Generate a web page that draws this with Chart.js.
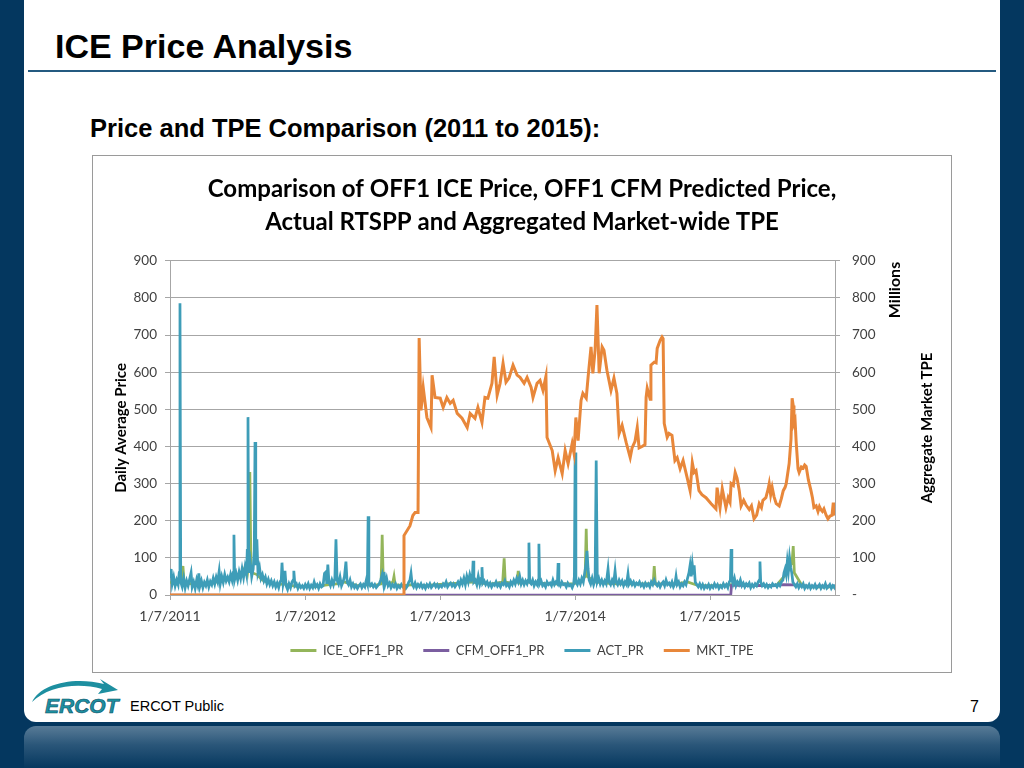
<!DOCTYPE html>
<html><head><meta charset="utf-8">
<script src="https://cdn.jsdelivr.net/npm/chart.js@4.4.0/dist/chart.umd.min.js"></script>
<style>
html,body{margin:0;padding:0;}
body{width:1024px;height:768px;background:#04375f;position:relative;overflow:hidden;font-family:"Liberation Sans",Arial,sans-serif;}
#panel{position:absolute;left:24px;top:0;width:976px;height:722px;background:#fff;border-radius:0 0 12px 12px;}
#reflect{position:absolute;left:24px;top:726px;width:976px;height:42px;border-radius:12px 12px 0 0;background:linear-gradient(#587b97,#2a5679 45%,#06385f);}
#title{position:absolute;left:55px;top:27px;font-weight:bold;font-size:34px;color:#000;white-space:nowrap;}
#rule{position:absolute;left:28px;top:70px;width:968px;height:2px;background:#245a80;}
#subtitle{position:absolute;left:90px;top:114px;font-weight:bold;font-size:25.5px;color:#000;white-space:nowrap;}
#box{position:absolute;left:92px;top:155px;width:858px;height:516px;border:1px solid #9a9a9a;background:#fff;}
#chartwrap{position:absolute;left:93px;top:156px;width:858px;height:511px;}
.rot{position:absolute;transform:translate(-50%,-50%) rotate(-90deg);font-family:Lato,"Open Sans",sans-serif;font-weight:bold;font-size:15px;color:#000;white-space:nowrap;}
#pub{position:absolute;left:130px;top:698px;font-size:14.5px;color:#000;}
#pnum{position:absolute;left:970px;top:698px;font-size:16px;color:#000;}
#logo{position:absolute;left:26px;top:676px;}
</style></head>
<body>
<div id="panel"></div>
<div id="reflect"></div>
<div id="title">ICE Price Analysis</div>
<div id="rule"></div>
<div id="subtitle">Price and TPE Comparison (2011 to 2015):</div>
<div id="box"></div>
<div id="chartwrap"><canvas id="c" width="858" height="511"></canvas></div>
<div class="rot" style="left:893px;top:290px;font-size:16px;">Millions</div>
<div class="rot" style="left:926px;top:428px;">Aggregate Market TPE</div>
<svg id="logo" width="100" height="42" viewBox="0 0 100 42">
  <path d="M6 26 C 14 8, 48 0, 78 8 L 74 3 L 92 14 L 72 18 L 76 13 C 52 6, 22 10, 6 26 Z" fill="#1d8fa0"/>
  <text x="19" y="37" font-family="Liberation Sans, Arial" font-size="21" font-weight="bold" font-style="italic" fill="#1d8fa0" stroke="#0b4f66" stroke-width="0.6">ERCOT</text>
</svg>
<div id="pub">ERCOT Public</div>
<div id="pnum">7</div>
<script>
// x values are days since 1/7/2011
const tickDays = [0, 366, 731, 1096, 1461];
const tickLabels = ['1/7/2011', '1/7/2012', '1/7/2013', '1/7/2014', '1/7/2015'];
const rightTickLabels = ['-', '100', '200', '300', '400', '500', '600', '700', '800', '900'];
const seriesNames = ['ICE_OFF1_PR', 'CFM_OFF1_PR', 'ACT_PR', 'MKT_TPE'];

const iceOff1Pr = [[0,35],[15,28],[30,40],[35,78],[38,35],[55,30],[75,35],[95,28],[115,32],[135,38],[155,42],[175,45],[195,55],[205,80],[210,60],[214,90],[216,331],[219,70],[222,60],[235,55],[250,40],[270,32],[290,28],[310,30],[330,25],[350,22],[370,24],[390,22],[410,25],[430,28],[450,30],[470,35],[490,30],[510,25],[530,28],[550,25],[571,30],[574,162],[577,35],[590,30],[603,35],[606,50],[609,28],[630,25],[660,28],[690,25],[720,28],[750,30],[780,32],[810,35],[840,32],[870,30],[900,35],[904,99],[907,35],[925,32],[939,35],[942,65],[945,32],[970,35],[1000,32],[1030,30],[1060,30],[1090,30],[1110,35],[1123,50],[1126,178],[1129,50],[1150,35],[1180,32],[1210,30],[1240,30],[1270,30],[1307,30],[1310,78],[1313,30],[1340,30],[1370,30],[1400,35],[1430,25],[1460,25],[1490,25],[1520,28],[1550,28],[1580,25],[1610,25],[1640,25],[1670,60],[1683,90],[1686,132],[1689,60],[1710,25],[1740,22],[1770,22],[1799,22]];

const cfmOff1Pr = [[0,0],[1517,0],[1519,26],[1540,26],[1570,25],[1600,26],[1630,25],[1660,28],[1690,27],[1720,24],[1750,24],[1780,24],[1799,24]];

const actPr = [[0,45],[3,70],[6,30],[10,48],[14,25],[18,40],[22,28],[25,60],[27,786],[29,35],[33,22],[37,45],[41,20],[45,38],[49,25],[53,42],[57,60],[60,22],[64,35],[68,18],[72,40],[75,28],[78,58],[81,24],[85,38],[89,20],[93,34],[97,25],[101,40],[105,22],[109,36],[113,28],[117,45],[121,30],[125,48],[129,35],[133,64],[136,30],[140,50],[144,34],[148,55],[152,38],[156,48],[160,36],[164,55],[168,40],[171,60],[173,162],[175,42],[179,58],[183,40],[187,62],[191,45],[195,70],[199,48],[203,75],[207,55],[209,120],[211,479],[213,60],[217,90],[221,50],[225,70],[228,120],[230,412],[232,80],[235,150],[238,60],[242,75],[246,45],[250,55],[254,38],[258,48],[262,30],[266,42],[270,28],[274,38],[278,25],[282,35],[286,22],[290,32],[294,20],[298,36],[301,40],[303,87],[306,30],[309,45],[311,65],[314,25],[318,15],[322,30],[326,20],[330,35],[333,40],[335,65],[338,25],[342,30],[346,18],[350,28],[354,20],[358,25],[362,18],[366,28],[370,20],[374,30],[378,18],[382,26],[386,20],[390,35],[394,22],[398,28],[402,18],[406,30],[410,22],[414,25],[418,58],[422,62],[424,30],[427,82],[430,35],[434,25],[438,40],[442,28],[446,45],[449,150],[452,40],[456,30],[460,48],[464,25],[468,35],[472,50],[476,90],[479,35],[483,28],[487,40],[491,22],[495,30],[499,20],[503,26],[507,18],[511,25],[515,30],[519,20],[523,28],[527,22],[531,40],[534,30],[536,212],[538,35],[542,25],[546,30],[550,22],[554,28],[558,20],[562,25],[566,30],[570,40],[574,55],[577,35],[579,62],[582,30],[586,45],[590,25],[594,32],[598,20],[602,28],[606,22],[610,30],[614,18],[618,25],[622,20],[626,28],[630,22],[634,26],[638,18],[642,24],[646,35],[649,40],[652,58],[655,30],[659,22],[663,32],[667,20],[671,28],[675,22],[679,30],[683,20],[687,26],[691,18],[695,28],[699,22],[703,30],[707,20],[711,25],[715,30],[719,22],[723,28],[727,20],[731,26],[735,22],[739,30],[743,25],[747,35],[751,22],[755,28],[759,32],[763,24],[767,30],[771,22],[775,28],[779,35],[783,25],[787,40],[791,30],[795,45],[799,28],[803,50],[807,35],[811,55],[815,40],[818,45],[820,92],[822,35],[826,40],[830,28],[834,50],[838,30],[842,45],[844,75],[846,32],[850,38],[854,28],[858,35],[862,25],[866,32],[870,22],[874,30],[878,26],[882,35],[886,24],[890,30],[894,22],[898,32],[902,28],[906,38],[910,25],[914,30],[918,22],[922,35],[926,28],[930,40],[934,30],[938,45],[942,35],[946,50],[950,30],[954,40],[958,28],[962,38],[966,30],[969,40],[971,141],[973,35],[977,30],[981,40],[985,25],[989,35],[993,28],[996,40],[998,138],[1000,30],[1004,38],[1008,25],[1012,30],[1016,22],[1020,35],[1024,28],[1028,32],[1032,25],[1036,40],[1040,28],[1044,35],[1048,30],[1050,86],[1052,32],[1056,25],[1060,35],[1064,28],[1068,30],[1072,22],[1076,32],[1080,25],[1084,28],[1088,20],[1092,30],[1094,50],[1096,384],[1098,35],[1102,28],[1106,40],[1110,30],[1114,45],[1118,35],[1122,60],[1125,80],[1128,119],[1131,70],[1134,40],[1138,30],[1142,45],[1146,28],[1150,40],[1153,362],[1156,35],[1160,45],[1164,30],[1168,40],[1172,28],[1176,38],[1180,30],[1185,70],[1188,35],[1192,28],[1196,40],[1200,30],[1204,65],[1207,35],[1211,28],[1215,40],[1219,30],[1223,38],[1227,25],[1231,35],[1235,28],[1239,57],[1242,30],[1246,38],[1250,28],[1254,35],[1258,25],[1262,32],[1266,28],[1270,35],[1274,25],[1278,30],[1282,22],[1286,32],[1290,25],[1294,30],[1298,22],[1302,35],[1306,28],[1310,40],[1314,30],[1318,25],[1322,32],[1326,22],[1330,30],[1334,35],[1338,25],[1342,40],[1346,28],[1350,32],[1354,25],[1358,35],[1362,22],[1366,30],[1369,50],[1372,28],[1376,35],[1380,22],[1384,30],[1388,25],[1392,35],[1396,28],[1400,45],[1404,60],[1407,80],[1410,50],[1413,82],[1416,55],[1418,80],[1421,35],[1425,28],[1429,22],[1433,30],[1437,20],[1441,28],[1445,18],[1449,25],[1453,20],[1457,28],[1461,18],[1465,25],[1469,20],[1473,30],[1477,22],[1481,28],[1485,18],[1489,25],[1493,20],[1497,30],[1501,22],[1505,28],[1509,20],[1513,35],[1516,40],[1518,124],[1520,40],[1523,30],[1527,45],[1531,25],[1535,35],[1539,28],[1543,40],[1547,25],[1551,32],[1555,22],[1559,30],[1563,25],[1567,32],[1571,20],[1575,28],[1579,22],[1583,30],[1587,25],[1591,35],[1594,40],[1596,90],[1598,35],[1602,25],[1606,30],[1610,22],[1614,28],[1618,20],[1622,26],[1626,22],[1630,30],[1634,25],[1638,28],[1642,22],[1646,30],[1650,25],[1654,35],[1658,40],[1661,60],[1664,70],[1667,55],[1670,90],[1673,65],[1676,100],[1679,75],[1682,60],[1685,35],[1689,28],[1693,22],[1697,30],[1701,20],[1705,28],[1709,22],[1713,30],[1717,18],[1721,25],[1725,20],[1729,28],[1733,18],[1737,25],[1741,20],[1745,28],[1749,18],[1753,22],[1757,28],[1761,18],[1765,25],[1769,20],[1773,30],[1777,18],[1781,22],[1785,28],[1789,18],[1793,25],[1797,20],[1799,28]];

// Aggregate market TPE, millions (secondary axis)
const mktTpe = [[0,0],[632,0],[633,160],[649,186],[657,214],[663,222],[671,222],[674,692],[679,497],[685,559],[695,478],[706,451],[709,592],[717,532],[731,530],[739,505],[749,532],[758,516],[766,524],[777,489],[790,476],[804,451],[812,489],[825,476],[833,505],[844,465],[852,532],[860,530],[871,570],[877,641],[885,538],[893,570],[901,624],[909,573],[917,584],[928,619],[939,592],[947,586],[958,570],[966,586],[977,559],[982,532],[993,570],[1001,578],[1009,551],[1017,589],[1020,424],[1034,389],[1042,335],[1050,370],[1061,327],[1069,389],[1077,354],[1088,408],[1093,381],[1098,478],[1104,416],[1112,524],[1117,543],[1126,530],[1131,586],[1139,668],[1144,597],[1150,659],[1155,781],[1161,597],[1169,668],[1174,659],[1182,605],[1193,551],[1201,584],[1209,543],[1215,435],[1223,457],[1234,411],[1245,370],[1250,396],[1258,414],[1264,451],[1269,396],[1277,400],[1285,405],[1288,532],[1291,557],[1299,527],[1301,619],[1310,627],[1315,625],[1318,664],[1326,686],[1331,695],[1334,690],[1337,462],[1345,425],[1350,435],[1358,430],[1366,362],[1372,370],[1380,340],[1388,362],[1399,316],[1407,281],[1413,356],[1418,330],[1423,335],[1431,281],[1439,270],[1450,262],[1464,246],[1477,232],[1480,289],[1488,235],[1494,286],[1504,235],[1510,262],[1515,250],[1518,300],[1524,295],[1529,330],[1534,315],[1540,281],[1545,240],[1552,255],[1558,243],[1567,230],[1573,240],[1580,205],[1587,215],[1594,246],[1600,235],[1604,255],[1612,262],[1618,285],[1621,300],[1625,270],[1629,290],[1634,265],[1640,246],[1648,240],[1654,260],[1659,281],[1664,290],[1667,300],[1675,354],[1680,420],[1683,530],[1686,510],[1688,462],[1691,470],[1694,411],[1699,340],[1702,330],[1708,345],[1713,342],[1717,350],[1721,346],[1727,310],[1734,281],[1738,262],[1742,236],[1748,240],[1753,225],[1757,238],[1761,230],[1765,225],[1769,232],[1775,215],[1780,205],[1785,212],[1791,215],[1794,245],[1796,249],[1799,214]];

const COLORS = ['#93b55a', '#7b5ea0', '#3e9db8', '#e8873a'];
const toXY = arr => arr.map(p => ({x: p[0], y: p[1]}));
const FONT = 'Lato, "Open Sans", sans-serif';
const GRID = '#a6a6a6';

function ds(i, arr, axis, order, w) {
  return {
    label: seriesNames[i], data: toXY(arr), yAxisID: axis, order: order,
    borderColor: COLORS[i], backgroundColor: COLORS[i], borderWidth: w,
    pointRadius: 0, tension: 0, fill: false
  };
}

new Chart(document.getElementById('c'), {
  type: 'line',
  data: { datasets: [
    ds(0, iceOff1Pr, 'y', 4, 2.75),
    ds(1, cfmOff1Pr, 'y', 3, 2.75),
    ds(2, actPr, 'y', 2, 2.75),
    ds(3, mktTpe, 'y2', 1, 3)
  ]},
  options: {
    responsive: false, animation: false, devicePixelRatio: 1, events: [],
    layout: { padding: 0 },
    plugins: {
      tooltip: { enabled: false },
      title: {
        display: true,
        text: ['Comparison of OFF1 ICE Price, OFF1 CFM Predicted Price,', 'Actual RTSPP and Aggregated Market-wide TPE'],
        color: '#000', font: { family: FONT, size: 24, weight: 'bold', lineHeight: 1.35 },
        padding: { top: 17.5, bottom: 22.5 }
      },
      legend: {
        position: 'bottom',
        labels: {
          boxWidth: 26, boxHeight: 3, padding: 20, color: '#404040',
          font: { family: FONT, size: 13 },
          sort: (a, b) => a.datasetIndex - b.datasetIndex,
          generateLabels: (chart) => Chart.defaults.plugins.legend.labels.generateLabels(chart).map(it => Object.assign(it, { lineWidth: 0 }))
        }
      }
    },
    scales: {
      x: {
        type: 'linear', min: 0, max: 1799,
        afterBuildTicks: s => { s.ticks = tickDays.map(v => ({ value: v })); },
        afterFit: s => { s.height = 29; },
        ticks: { autoSkip: false, maxRotation: 0, padding: 8, color: '#404040', font: { family: FONT, size: 14 },
                 callback: (v) => tickLabels[tickDays.indexOf(v)] },
        grid: { drawOnChartArea: false, drawTicks: true, tickLength: 5, color: GRID },
        border: { color: GRID }
      },
      y: {
        position: 'left', min: 0, max: 900,
        afterFit: s => { s.width = 77; },
        ticks: { stepSize: 100, padding: 8, color: '#404040', font: { family: FONT, size: 13.5 } },
        grid: { color: GRID, tickLength: 5 },
        border: { color: GRID },
        title: { display: true, text: 'Daily Average Price', color: '#000', font: { family: FONT, size: 15, weight: 'bold' }, padding: { top: 19 } }
      },
      y2: {
        position: 'right', min: 0, max: 900,
        afterFit: s => { s.width = 116; },
        ticks: { stepSize: 100, padding: 12, color: '#404040', font: { family: FONT, size: 13.5 },
                 callback: (v) => rightTickLabels[Math.round(v / 100)] },
        grid: { drawOnChartArea: false, tickLength: 5, color: GRID },
        border: { color: GRID }
      }
    }
  }
});
</script>
</body></html>
